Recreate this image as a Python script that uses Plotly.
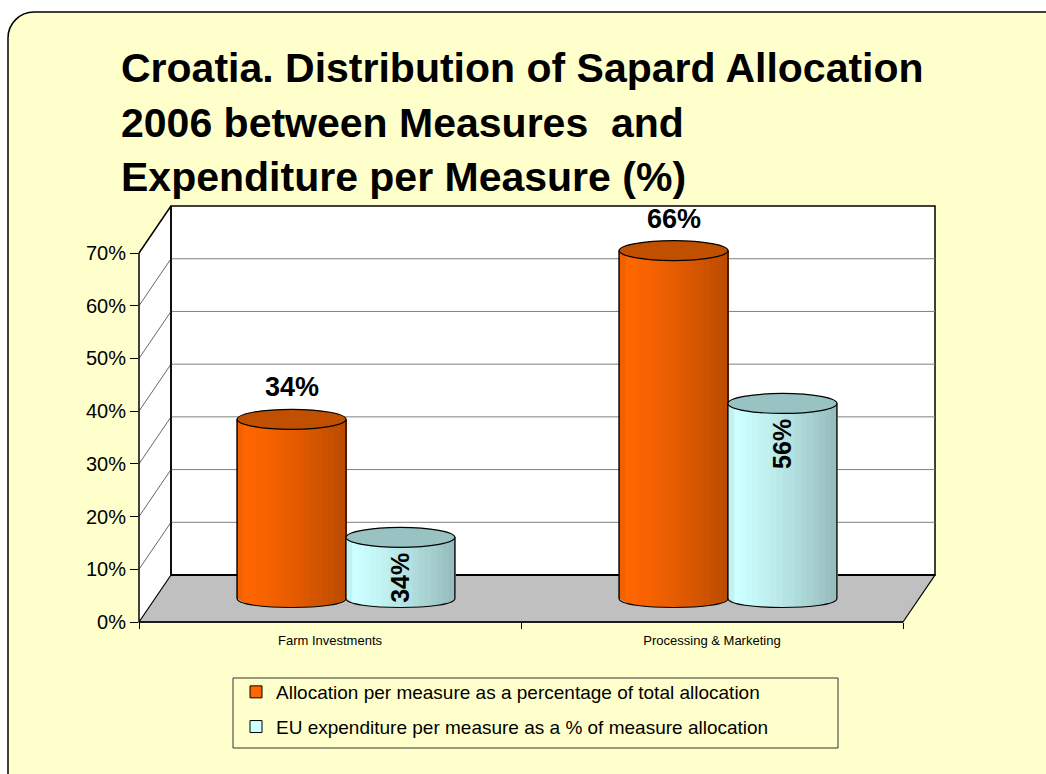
import plotly.graph_objects as go

# ---------------- data ----------------
categories = ["Farm Investments", "Processing & Marketing"]
series_names = [
    "Allocation per measure as a percentage of total allocation",
    "EU expenditure per measure as a % of measure allocation",
]
allocation_values = [34, 66]          # orange cylinders (% of total allocation)
allocation_labels = ["34%", "66%"]
expenditure_heights = [11.6, 37.0]    # cyan cylinders, heights as drawn
expenditure_labels = ["34%", "56%"]   # labels printed on the cyan cylinders
y_tick_values = [0, 10, 20, 30, 40, 50, 60, 70]
y_tick_labels = ["0%", "10%", "20%", "30%", "40%", "50%", "60%", "70%"]
title_lines = [
    "Croatia. Distribution of Sapard Allocation",
    "2006 between Measures  and",
    "Expenditure per Measure (%)",
]

# ---------------- geometry / style ----------------
W, H = 1046, 774
L, R, T, B = 139, 935, 206, 622          # plot area in px
PW, PH = R - L, B - T
PXU = 5.271                              # px per 1 %
Y_MAX = PH / PXU
BACK_DX, BACK_DY = 32, 47                # depth of back wall
MID_DY = 23.5                            # depth of cylinders
CAT_PX = 382                             # px per category
BAR_W = 0.285
FONT = "Liberation Sans, Arial, sans-serif"
BG = "#FFFFCC"
TOP_PX, BOT_PX = 10, 9                   # ellipse half-heights


def px(xp):
    return (xp - L) / PW


def py(yp):
    return (B - yp) / PH


shapes = []
# rounded yellow background panel
r = 26
x0b, y0b, x1b, y1b = 8, 12, 1080, 810
shapes.append(dict(
    type="path", xref="paper", yref="paper", layer="below",
    path=(f"M {px(x0b)},{py(y1b)} L {px(x0b)},{py(y0b + r)} "
          f"C {px(x0b)},{py(y0b + r * 0.45)} {px(x0b + r * 0.45)},{py(y0b)} {px(x0b + r)},{py(y0b)} "
          f"L {px(x1b)},{py(y0b)} L {px(x1b)},{py(y1b)} Z"),
    fillcolor=BG, line=dict(color="black", width=1.5)))

top_front = B - 70 * PXU
# side wall
shapes.append(dict(
    type="path", xref="paper", yref="paper", layer="below",
    path=(f"M {px(L)},{py(B)} L {px(L)},{py(top_front)} "
          f"L {px(L + BACK_DX)},{py(top_front - BACK_DY)} L {px(L + BACK_DX)},{py(B - BACK_DY)} Z"),
    fillcolor="white", line=dict(width=0)))
# back wall
shapes.append(dict(
    type="rect", xref="paper", yref="paper", layer="below",
    x0=px(L + BACK_DX), x1=px(R), y0=py(B - BACK_DY), y1=py(T),
    fillcolor="white", line=dict(color="black", width=1.5)))
# gridlines on back wall and side wall
for v in y_tick_values[1:-1]:
    yb = B - BACK_DY - v * PXU
    shapes.append(dict(type="line", xref="paper", yref="paper", layer="below",
                       x0=px(L + BACK_DX), x1=px(R), y0=py(yb), y1=py(yb),
                       line=dict(color="#808080", width=1)))
    shapes.append(dict(type="line", xref="paper", yref="paper", layer="below",
                       x0=px(L), x1=px(L + BACK_DX), y0=py(B - v * PXU), y1=py(yb),
                       line=dict(color="#404040", width=0.8)))
shapes.append(dict(type="line", xref="paper", yref="paper", layer="below",
                   x0=px(L), x1=px(L + BACK_DX), y0=py(top_front), y1=py(top_front - BACK_DY),
                   line=dict(color="black", width=1.5)))
shapes.append(dict(type="line", xref="paper", yref="paper", layer="below",
                   x0=px(L + BACK_DX), x1=px(L + BACK_DX), y0=py(B - BACK_DY), y1=py(T),
                   line=dict(color="black", width=1.5)))
# floor
shapes.append(dict(
    type="path", xref="paper", yref="paper", layer="below",
    path=(f"M {px(L)},{py(B)} L {px(L + BACK_DX)},{py(B - BACK_DY)} "
          f"L {px(R)},{py(B - BACK_DY)} L {px(R - BACK_DX)},{py(B)} Z"),
    fillcolor="#C0C0C0", line=dict(color="black", width=1.2)))
shapes.append(dict(type="line", xref="paper", yref="paper", layer="below",
                   x0=px(L), x1=px(R - BACK_DX), y0=0, y1=0,
                   line=dict(color="black", width=1.5)))
shapes.append(dict(type="line", xref="paper", yref="paper", layer="below",
                   x0=px(L + BACK_DX), x1=px(R), y0=py(B - BACK_DY), y1=py(B - BACK_DY),
                   line=dict(color="black", width=2)))
# front value axis line
shapes.append(dict(type="line", xref="paper", yref="paper", layer="below",
                   x0=0, x1=0, y0=0, y1=py(top_front),
                   line=dict(color="black", width=1.5)))
# legend box
shapes.append(dict(type="rect", xref="paper", yref="paper", layer="below",
                   x0=px(233), x1=px(838), y0=py(678), y1=py(748),
                   fillcolor=BG, line=dict(color="#333333", width=1)))


def shade(rgb, f):
    return "rgb(%d,%d,%d)" % tuple(max(0, min(255, round(c * f))) for c in rgb)


def cylinder(xl, value, rgb, cap_rgb):
    """Cylinder look for a bar, built from its data value on x2/y2."""
    n = 18
    w = BAR_W
    xc = xl + w / 2
    ryb = BOT_PX / PXU
    ryt = TOP_PX / PXU

    def ybot(x):
        t = (x - xc) / (w / 2)
        t = max(-1.0, min(1.0, t))
        return -ryb * (1 - t * t) ** 0.5

    out = []
    for i in range(n):
        xa = xl + w * i / n
        xb = xl + w * (i + 1) / n
        t = (i + 0.5) / n
        if t < 0.08:
            f = 0.95
        else:
            f = 1.0 - 0.27 * ((t - 0.08) / 0.92) ** 1.3
        out.append(dict(
            type="path", xref="x2", yref="y2", layer="above",
            path=(f"M {xa},{value} L {xb + w / n * 0.15},{value} "
                  f"L {xb + w / n * 0.15},{ybot(xb)} L {xa},{ybot(xa)} Z"),
            fillcolor=shade(rgb, f), line=dict(width=0)))
    k = 4 / 3 * ryb
    out.append(dict(
        type="path", xref="x2", yref="y2", layer="above",
        path=(f"M {xl},{value} L {xl},0 C {xl},{-k} {xl + w},{-k} {xl + w},0 "
              f"L {xl + w},{value}"),
        fillcolor="rgba(0,0,0,0)", line=dict(color="black", width=1.2)))
    out.append(dict(
        type="circle", xref="x2", yref="y2", layer="above",
        x0=xl, x1=xl + w, y0=value - ryt, y1=value + ryt,
        fillcolor=shade(cap_rgb, 1.0), line=dict(color="black", width=1.2)))
    return out


ORANGE = (255, 102, 0)
ORANGE_CAP = (192, 80, 0)
CYAN = (204, 255, 255)
CYAN_CAP = (153, 195, 195)

xpos = list(range(len(categories)))
for i in xpos:
    shapes += cylinder(i - BAR_W, allocation_values[i], ORANGE, ORANGE_CAP)
    shapes += cylinder(i, expenditure_heights[i], CYAN, CYAN_CAP)

fig = go.Figure()
# invisible trace to carry the category axis
fig.add_trace(go.Scatter(x=categories, y=[0, 0], mode="markers",
                         marker=dict(opacity=0), showlegend=False, hoverinfo="skip"))
fig.add_trace(go.Bar(
    x=xpos, y=allocation_values, xaxis="x2", yaxis="y2",
    width=BAR_W, offset=-BAR_W, name=series_names[0], legendgroup="a",
    marker=dict(color="#FF6600", line=dict(color="black", width=1))))
fig.add_trace(go.Bar(
    x=xpos, y=expenditure_heights, xaxis="x2", yaxis="y2",
    width=BAR_W, offset=0, name=series_names[1], legendgroup="b",
    marker=dict(color="#CCFFFF", line=dict(color="black", width=1))))

annotations = []
title_y = [68, 123, 177]
for line, yc in zip(title_lines, title_y):
    annotations.append(dict(
        text=f"<b>{line}</b>", xref="paper", yref="paper", x=px(119), y=py(yc),
        xanchor="left", yanchor="middle", showarrow=False,
        font=dict(family=FONT, size=41, color="black")))
for i in xpos:
    annotations.append(dict(
        text=f"<b>{allocation_labels[i]}</b>", xref="x2", yref="y2",
        x=i - BAR_W / 2, y=allocation_values[i], yshift=32, showarrow=False,
        xanchor="center", yanchor="middle",
        font=dict(family=FONT, size=27, color="black")))
    annotations.append(dict(
        text=f"<b>{expenditure_labels[i]}</b>", xref="x2", yref="y2",
        x=i + BAR_W / 2, y=expenditure_heights[i], yshift=-40, showarrow=False,
        xanchor="center", yanchor="middle", textangle=-90,
        font=dict(family=FONT, size=25, color="black")))

x_lo = -(CAT_PX / 2) / CAT_PX
fig.update_layout(
    width=W, height=H,
    margin=dict(l=L, r=W - R, t=T, b=H - B, pad=0),
    paper_bgcolor="white", plot_bgcolor="rgba(0,0,0,0)",
    barmode="overlay",
    showlegend=True,
    legend=dict(x=px(236), y=py(673), xanchor="left", yanchor="top",
                bgcolor="rgba(0,0,0,0)", borderwidth=0,
                font=dict(family=FONT, size=19, color="black"),
                traceorder="grouped", tracegroupgap=7, itemwidth=30),
    xaxis=dict(type="category", categoryorder="array", categoryarray=categories,
               range=[x_lo, x_lo + PW / CAT_PX], showgrid=False, zeroline=False,
               showline=False, ticks="outside", tickson="boundaries", ticklen=6,
               tickcolor="black", tickwidth=1, ticklabelstandoff=9,
               tickfont=dict(family=FONT, size=13, color="black"), fixedrange=True),
    yaxis=dict(range=[0, Y_MAX], tickvals=y_tick_values, ticktext=y_tick_labels,
               showgrid=False, zeroline=False, showline=False, ticks="outside",
               ticklen=8, tickcolor="black", tickwidth=1,
               tickfont=dict(family=FONT, size=20, color="black"), fixedrange=True),
    xaxis2=dict(overlaying="x", visible=False,
                range=[-(346 - L) / CAT_PX, -(346 - L) / CAT_PX + PW / CAT_PX]),
    yaxis2=dict(overlaying="y", visible=False,
                range=[-MID_DY / PXU, Y_MAX - MID_DY / PXU]),
    shapes=shapes,
    annotations=annotations,
    font=dict(family=FONT),
)

fig.write_html(
    "out.html",
    config={"displayModeBar": False},
    post_script="document.body.style.margin='0';document.body.style.overflow='hidden';",
)
